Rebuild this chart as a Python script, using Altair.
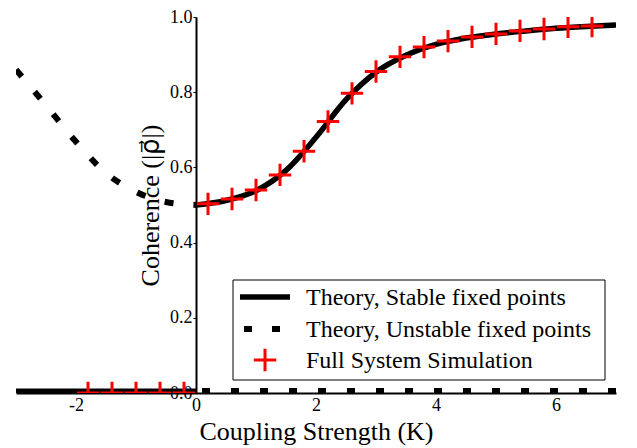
import altair as alt
import pandas as pd

# ---- data ----
stable_K = [0.0, 0.5, 1.0, 1.5, 2.0, 2.5, 3.0, 3.5, 4.0, 4.5, 5.0, 5.5, 6.0, 6.5, 7.0]
stable_r = [0.500, 0.512, 0.538, 0.592, 0.680, 0.780, 0.853, 0.898, 0.927, 0.944, 0.955, 0.963, 0.970, 0.975, 0.979]
stable_zero_K = [-3.0, 0.0]
stable_zero_r = [0.0, 0.0]

unstable_K = [-3.0, -2.5, -2.0, -1.5, -1.0, -0.5, 0.0]
unstable_r = [0.860, 0.765, 0.668, 0.585, 0.535, 0.508, 0.500]
unstable_zero_K = [0.0, 7.0]
unstable_zero_r = [0.0, 0.0]

sim_K = [-1.8, -1.4, -1.0, -0.6, -0.2,
         0.2, 0.6, 1.0, 1.4, 1.8, 2.2, 2.6, 3.0, 3.4, 3.8, 4.2, 4.6, 5.0, 5.4, 5.8, 6.2, 6.6]
sim_r = [0.0, 0.0, 0.0, 0.0, 0.0,
         0.503, 0.516, 0.540, 0.580, 0.643, 0.722, 0.797, 0.855, 0.894, 0.920, 0.936, 0.947, 0.955, 0.963, 0.968, 0.974, 0.976]

x_ticks = [-2, 0, 2, 4, 6]
y_ticks = [0.0, 0.2, 0.4, 0.6, 0.8, 1.0]
legend_labels = ["Theory, Stable fixed points", "Theory, Unstable fixed points", "Full System Simulation"]

FONT = "Liberation Serif"
PLUS = "M-1,0L1,0M0,-1L0,1"

stable_curve_df = pd.DataFrame({"K": stable_K, "r": stable_r})
stable_zero_df = pd.DataFrame({"K": stable_zero_K, "r": stable_zero_r})
unstable_curve_df = pd.DataFrame({"K": unstable_K, "r": unstable_r})
unstable_zero_df = pd.DataFrame({"K": unstable_zero_K, "r": unstable_zero_r})
sim_df = pd.DataFrame({"K": sim_K, "r": sim_r})

xscale = alt.Scale(domain=[-3, 7], nice=False, zero=False)
yscale = alt.Scale(domain=[0, 1], nice=False, zero=False)

x_axis = alt.Axis(values=x_ticks, labelExpr="'' + datum.value", ticks=False, grid=False,
                  domainColor="black", domainWidth=2, labelFont=FONT, labelFontSize=18,
                  labelColor="black", labelPadding=3, title="Coupling Strength (K)",
                  titleFont=FONT, titleFontSize=26, titleFontWeight="normal",
                  titleColor="black", titlePadding=4)
y_axis = alt.Axis(values=y_ticks, format=".1f", offset=-180, grid=False,
                  domainColor="black", domainWidth=2, tickColor="black", tickSize=3,
                  tickWidth=1, labelFont=FONT, labelFontSize=18, labelColor="black",
                  labelPadding=1, title="Coherence (|ρ\u20d7|)",
                  titleFont="Liberation Serif, DejaVu Sans",
                  titleFontSize=26, titleFontWeight="normal", titleColor="black",
                  titlePadding=6)

X = alt.X("K:Q", scale=xscale, axis=x_axis)
Y = alt.Y("r:Q", scale=yscale, axis=y_axis)

stable = alt.Chart(stable_curve_df).mark_line(
    color="black", strokeWidth=5.5, interpolate="monotone", clip=True
).encode(x=X, y=Y)
stable_zero = alt.Chart(stable_zero_df).mark_line(
    color="black", strokeWidth=9, clip=True
).encode(x=X, y=Y)

unstable = alt.Chart(unstable_curve_df).mark_line(
    color="black", strokeWidth=6, strokeDash=[9, 20], interpolate="monotone", clip=True
).encode(x=X, y=Y)
unstable_zero = alt.Chart(unstable_zero_df).mark_line(
    color="black", strokeWidth=10, strokeDash=[8, 21], strokeDashOffset=-6, clip=True
).encode(x=X, y=Y)

sim = alt.Chart(sim_df).mark_point(
    shape=PLUS, size=500, filled=False, stroke="red", strokeWidth=3, opacity=1,
    strokeCap="butt", clip=True
).encode(x=X, y=Y)

# ---- legend box ----
leg_box = alt.Chart().mark_rect(fill="white", stroke="black", strokeWidth=1).encode(
    x=alt.value(217), x2=alt.value(589), y=alt.value(263), y2=alt.value(363))
leg_l1 = alt.Chart().mark_rule(color="black", strokeWidth=5.5).encode(
    x=alt.value(224), x2=alt.value(274), y=alt.value(280))
leg_l2 = alt.Chart().mark_rule(color="black", strokeWidth=6, strokeDash=[8, 20]).encode(
    x=alt.value(228), x2=alt.value(264), y=alt.value(312))
leg_l3 = alt.Chart().mark_point(shape=PLUS, size=500, filled=False, stroke="red",
                                strokeWidth=3, opacity=1).encode(
    x=alt.value(249), y=alt.value(343))
leg_texts = [
    alt.Chart().mark_text(align="left", baseline="middle", font=FONT, fontSize=24,
                          color="black").encode(
        x=alt.value(290), y=alt.value(yy), text=alt.value(lab))
    for lab, yy in zip(legend_labels, [281, 313, 344])
]

chart = alt.layer(stable_zero, unstable_zero, stable, unstable, sim,
                  leg_box, leg_l1, leg_l2, leg_l3, *leg_texts).properties(
    width=600, height=376,
    autosize=alt.AutoSizeParams(type="none"),
    padding={"left": 8, "top": 9, "right": 13, "bottom": 55},
).configure_view(stroke=None)

chart.save("out.html", embed_options={"renderer": "svg", "actions": False})
